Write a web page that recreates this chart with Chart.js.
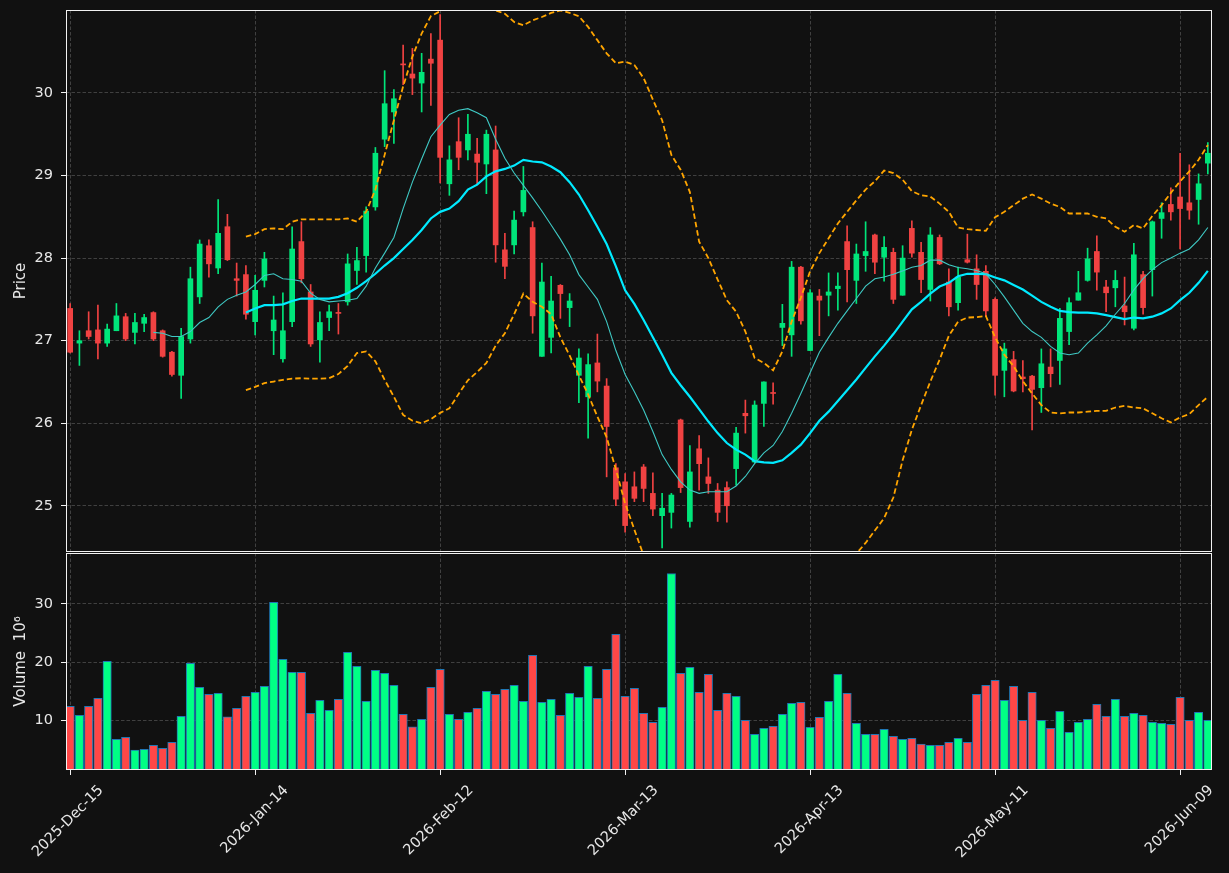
<!DOCTYPE html>
<html>
<head>
<meta charset="utf-8">
<script src="https://cdn.jsdelivr.net/npm/chart.js@4.4.1/dist/chart.umd.min.js"></script>
<style>
  html, body { margin: 0; padding: 0; background: #111111; }
  #wrap { position: relative; width: 1229px; height: 873px; }
  #priceBox { position: absolute; left: 0; top: 0; width: 1229px; height: 553px; }
  #volBox { position: absolute; left: 0; top: 553px; width: 1229px; height: 320px; }
</style>
</head>
<body>
<div id="wrap">
  <div id="priceBox"><canvas id="price" width="1229" height="553"></canvas></div>
  <div id="volBox"><canvas id="vol" width="1229" height="320"></canvas></div>
</div>
<script>
// tick labels (trading-day index -> date)
const tickPos = [0, 20, 40, 60, 80, 100, 120];
const tickLabels = ['2025-Dec-15', '2026-Jan-14', '2026-Feb-12', '2026-Mar-13', '2026-Apr-13', '2026-May-11', '2026-Jun-09'];
const priceTicks = [25, 26, 27, 28, 29, 30];
const volTicks = [10, 20, 30];

// OHLC, one value per trading day
const open = [27.39,26.97,27.12,27.13,26.97,27.12,27.29,27.10,27.21,27.34,
  27.12,26.86,26.58,27.02,27.53,28.15,27.88,28.38,27.75,27.80,
  27.23,27.73,27.12,26.78,27.23,28.20,27.59,27.01,27.28,27.34,
  27.47,27.85,28.03,28.62,29.44,29.77,30.35,30.23,30.12,30.41,
  30.64,28.90,29.41,29.31,29.26,29.14,29.31,28.10,28.16,28.56,
  28.37,26.81,27.04,27.67,27.40,26.58,26.32,26.73,26.45,25.46,
  25.29,25.23,25.47,25.15,24.88,24.92,26.04,24.81,25.69,25.35,
  25.19,25.22,25.45,26.12,25.53,26.24,26.37,27.16,27.07,27.89,
  26.88,27.54,27.55,27.63,28.20,27.73,28.03,28.28,28.01,28.07,
  27.55,28.36,28.07,27.62,28.25,27.71,27.46,27.98,27.87,27.84,
  27.50,26.64,26.77,26.56,26.57,26.43,26.68,26.76,27.11,27.49,
  27.73,28.08,27.65,27.64,27.42,27.15,27.80,27.86,28.48,28.65,
  28.74,28.67,28.71,29.15];
const high = [27.45,27.12,27.35,27.43,27.20,27.45,27.33,27.33,27.32,27.35,
  27.13,26.87,27.15,27.89,28.22,28.22,28.71,28.53,27.94,27.91,
  27.79,28.07,27.54,27.58,28.38,28.44,27.68,27.35,27.43,27.45,
  28.05,28.13,28.62,29.34,30.27,30.04,30.58,30.54,30.48,30.72,
  30.95,29.36,29.70,29.74,29.45,29.55,29.60,28.30,28.57,29.11,
  28.44,27.94,27.78,27.68,27.57,26.90,26.84,27.08,26.54,25.51,
  25.39,25.41,25.50,25.40,25.15,25.15,26.05,25.73,25.85,25.58,
  25.27,25.29,25.95,26.28,26.27,26.50,26.49,27.44,27.96,27.90,
  27.62,27.62,27.82,27.82,28.39,28.17,28.44,28.29,28.26,28.12,
  28.15,28.45,28.19,28.37,28.28,27.87,27.89,28.29,28.04,27.91,
  27.52,26.97,26.87,26.76,26.58,26.90,26.90,27.39,27.52,27.84,
  28.12,28.27,27.73,27.85,27.77,28.18,27.84,28.45,28.67,28.85,
  29.27,29.13,29.02,29.40];
const low = [26.85,26.70,27.02,26.78,26.93,27.12,27.00,26.96,27.11,27.00,
  26.80,26.57,26.30,26.97,27.45,27.77,27.81,27.97,27.54,27.26,
  27.07,27.65,26.83,26.74,27.17,27.70,26.93,26.74,27.12,27.08,
  27.43,27.68,27.83,28.58,29.35,29.39,30.10,29.98,29.77,29.85,
  28.91,28.76,29.07,29.19,28.90,28.78,27.95,27.75,28.05,28.51,
  27.09,26.81,26.85,27.27,27.17,26.25,25.82,26.38,25.35,25.00,
  24.68,25.05,25.05,24.88,24.49,24.73,25.16,24.74,25.19,25.15,
  24.81,24.80,25.25,25.88,25.52,25.96,26.23,26.94,26.81,27.20,
  26.88,27.06,27.30,27.37,27.47,27.45,27.84,27.81,27.72,27.45,
  27.55,28.01,27.58,27.48,27.92,27.30,27.37,27.94,27.50,27.29,
  26.34,26.32,26.38,26.38,25.92,26.13,26.44,26.47,26.95,27.49,
  27.72,27.61,27.35,27.41,27.19,27.13,27.32,27.54,28.24,28.46,
  28.11,28.47,28.41,29.02];
const close = [26.86,27.00,27.05,26.97,27.14,27.30,27.02,27.22,27.28,27.02,
  26.81,26.59,27.05,27.75,28.17,27.93,28.30,27.98,27.73,27.32,
  27.61,27.99,27.25,27.12,28.11,27.75,26.96,27.22,27.35,27.33,
  27.93,27.97,28.57,29.27,29.87,29.93,30.34,30.18,30.25,30.36,
  29.22,29.19,29.22,29.50,29.16,29.50,28.16,27.90,28.46,28.82,
  27.30,27.71,27.48,27.57,27.48,26.79,26.71,26.51,25.96,25.08,
  24.76,25.09,25.21,24.96,24.97,25.13,25.22,25.41,25.51,25.27,
  24.92,25.00,25.88,26.09,26.22,26.50,26.36,27.21,27.89,27.24,
  27.58,27.49,27.59,27.66,27.86,28.05,28.08,27.95,28.13,27.50,
  28.00,28.06,27.74,28.28,27.93,27.41,27.77,27.95,27.68,27.36,
  26.58,26.90,26.39,26.54,26.41,26.72,26.60,27.27,27.46,27.58,
  27.99,27.83,27.58,27.73,27.35,28.04,27.40,28.44,28.55,28.56,
  28.60,28.58,28.90,29.27];

// volume, millions
const volume = [12.4,10.86,12.4,13.77,20.1,6.74,7.09,4.86,5.03,5.71,
  5.2,6.23,10.69,19.77,15.66,14.46,14.63,10.57,12.06,14.11,
  14.8,15.83,30.23,20.46,18.23,18.23,11.2,13.43,11.71,13.6,
  21.66,19.26,13.26,18.57,18.06,16.0,11.03,8.86,10.17,15.66,
  18.74,11.03,10.17,11.37,12.06,14.97,14.46,15.31,16.0,13.26,
  21.14,13.09,13.6,10.86,14.63,13.94,19.26,13.77,18.74,24.74,
  14.11,15.49,11.2,9.66,12.23,35.2,18.06,19.09,14.8,17.89,
  11.71,14.63,14.11,10.0,7.6,8.63,8.97,11.03,12.91,13.09,
  8.8,10.51,13.26,17.89,14.63,9.49,7.6,7.6,8.46,7.26,
  6.74,6.91,5.89,5.71,5.71,6.23,6.91,6.23,14.46,16.0,
  16.86,13.43,15.83,10.0,14.8,10.0,8.63,11.54,7.94,9.66,
  10.17,12.74,10.69,13.6,10.69,11.2,10.86,9.66,9.49,9.31,
  13.94,10.0,11.37,10.0];

// moving averages and bands (start at day 9 / day 19)
const ma10 = [27.10,27.09,27.05,27.05,27.11,27.22,27.28,27.41,27.50,27.55,
  27.59,27.68,27.79,27.81,27.75,27.74,27.72,27.575,27.50,27.47,
  27.48,27.49,27.51,27.66,27.88,28.06,28.25,28.60,28.92,29.20,
  29.47,29.61,29.74,29.79,29.81,29.76,29.70,29.44,29.21,29.03,
  28.88,28.73,28.57,28.40,28.23,28.04,27.80,27.65,27.50,27.23,
  26.88,26.59,26.38,26.16,25.90,25.62,25.44,25.29,25.19,25.15,
  25.17,25.17,25.17,25.24,25.355,25.51,25.64,25.73,25.90,26.12,
  26.36,26.61,26.86,27.04,27.21,27.36,27.51,27.66,27.75,27.77,
  27.805,27.845,27.89,27.91,27.975,27.975,27.92,27.885,27.87,27.85,
  27.81,27.68,27.53,27.37,27.21,27.11,27.04,26.93,26.85,26.83,
  26.85,26.97,27.07,27.18,27.32,27.45,27.615,27.75,27.86,27.945,
  28.0,28.06,28.11,28.22,28.37];
const ma20 = [27.34,27.39,27.43,27.43,27.44,27.48,27.51,27.51,27.51,27.51,
  27.53,27.575,27.64,27.72,27.81,27.91,28.0,28.11,28.22,28.34,
  28.48,28.56,28.60,28.69,28.83,28.89,28.99,29.05,29.08,29.12,
  29.19,29.17,29.16,29.11,29.04,28.92,28.77,28.58,28.38,28.17,
  27.90,27.61,27.445,27.25,27.04,26.83,26.61,26.46,26.32,26.17,
  26.02,25.88,25.76,25.68,25.62,25.54,25.525,25.52,25.55,25.64,
  25.74,25.88,26.03,26.14,26.27,26.40,26.53,26.67,26.81,26.94,
  27.08,27.23,27.38,27.47,27.57,27.655,27.70,27.78,27.81,27.81,
  27.805,27.765,27.73,27.675,27.62,27.545,27.47,27.41,27.36,27.345,
  27.34,27.34,27.33,27.31,27.285,27.26,27.28,27.27,27.29,27.33,
  27.39,27.49,27.58,27.70,27.845];
const bbUpper = [28.26,28.29,28.35,28.36,28.35,28.44,28.47,28.47,28.47,28.47,
  28.47,28.48,28.44,28.56,28.83,29.25,29.67,30.08,30.44,30.72,
  30.93,30.99,31.08,31.12,31.12,31.08,31.03,31.0,30.96,30.86,
  30.82,30.88,30.92,30.97,31.0,30.97,30.93,30.80,30.64,30.48,
  30.36,30.38,30.34,30.18,29.92,29.67,29.25,29.07,28.80,28.20,
  28.00,27.74,27.49,27.35,27.11,26.79,26.73,26.64,26.87,27.23,
  27.52,27.84,28.06,28.24,28.42,28.56,28.70,28.83,28.93,29.06,
  29.03,28.95,28.81,28.76,28.745,28.66,28.56,28.37,28.35,28.34,
  28.33,28.495,28.56,28.64,28.72,28.77,28.72,28.66,28.62,28.54,
  28.54,28.54,28.50,28.48,28.38,28.32,28.40,28.36,28.51,28.64,
  28.79,28.93,29.05,29.19,29.37];
const bbLower = [26.40,26.44,26.485,26.505,26.525,26.54,26.545,26.54,26.54,26.545,
  26.595,26.695,26.85,26.87,26.75,26.525,26.32,26.10,26.03,26.0,
  26.05,26.125,26.18,26.355,26.52,26.62,26.73,26.94,27.09,27.32,
  27.57,27.47,27.41,27.32,27.04,26.82,26.58,26.35,26.08,25.83,
  25.44,25.03,24.71,24.40,24.10,23.85,23.70,23.60,23.55,23.60,
  23.70,23.85,23.95,24.00,24.10,24.20,24.30,24.35,24.25,24.10,
  24.00,23.95,23.95,24.00,24.10,24.25,24.42,24.55,24.70,24.85,
  25.10,25.55,25.92,26.22,26.505,26.77,27.06,27.23,27.28,27.285,
  27.30,27.04,26.83,26.69,26.51,26.36,26.22,26.13,26.12,26.13,
  26.13,26.14,26.15,26.15,26.19,26.21,26.19,26.18,26.12,26.06,
  26.01,26.07,26.11,26.22,26.32];

const UP = '#00e57a', DOWN = '#f04242';
const VOL_UP = '#00ff85', VOL_DOWN = '#ff4747';
const GRID = '#404040', TEXT = '#e8e8e8', EDGE = '#f2f2f2';
const FONT = 'DejaVu Sans';
const DASH = [3.5, 2];

const days = close.map((_, i) => i);
const isUp = days.map(i => close[i] >= open[i]);
const pts = (arr, start) => arr.map((v, k) => ({ x: start + k, y: v }));

// white box round each panel
const frame = {
  id: 'frame',
  afterDraw(chart) {
    const { ctx, chartArea: a } = chart;
    ctx.save();
    ctx.strokeStyle = EDGE;
    ctx.lineWidth = 1;
    ctx.strokeRect(a.left + 0.5, a.top + 0.5, a.right - a.left - 1, a.bottom - a.top - 1);
    ctx.restore();
  }
};

const xCommon = {
  type: 'linear',
  min: -0.45,
  max: 123.45,
  offset: false,
  afterBuildTicks: s => { s.ticks = tickPos.map(v => ({ value: v })); },
  border: { display: false, dash: DASH }
};

function fixY(width) {
  return s => { s.width = width; s.paddingTop = 0; s.paddingBottom = 0; };
}

new Chart(document.getElementById('price'), {
  type: 'bar',
  data: {
    datasets: [
      { type: 'line', data: pts(ma10, 9), borderColor: '#3fc9c4', borderWidth: 1.1, pointRadius: 0, order: 0 },
      { type: 'line', data: pts(ma20, 19), borderColor: '#00eaff', borderWidth: 2.2, pointRadius: 0, order: 0 },
      { type: 'line', data: pts(bbUpper, 19), borderColor: '#ffa500', borderWidth: 1.8, borderDash: [5.5, 3], pointRadius: 0, order: 0 },
      { type: 'line', data: pts(bbLower, 19), borderColor: '#ffa500', borderWidth: 1.8, borderDash: [5.5, 3], pointRadius: 0, order: 0 },
      {
        data: days.map(i => ({ x: i, y: [low[i], high[i]] })),
        backgroundColor: days.map(i => isUp[i] ? UP : DOWN),
        barThickness: 1, grouped: false, order: 2
      },
      {
        data: days.map(i => ({ x: i, y: [open[i], close[i]] })),
        backgroundColor: days.map(i => isUp[i] ? UP : DOWN),
        barThickness: 5, minBarLength: 1, grouped: false, order: 1
      }
    ]
  },
  options: {
    responsive: false,
    animation: false,
    devicePixelRatio: 1,
    layout: { padding: { left: 0, top: 10, right: 17, bottom: 1 } },
    plugins: { legend: { display: false }, tooltip: { enabled: false } },
    scales: {
      x: Object.assign({}, xCommon, {
        ticks: { display: false },
        grid: { color: GRID, offset: false, drawTicks: false },
        afterFit: s => { s.height = 0; s.paddingLeft = 0; s.paddingRight = 0; }
      }),
      y: {
        min: 24.44,
        max: 31.005,
        afterBuildTicks: s => { s.ticks = priceTicks.map(v => ({ value: v })); },
        afterFit: fixY(66),
        border: { display: false, dash: DASH },
        grid: { color: GRID, tickColor: EDGE, tickLength: 5, tickBorderDash: [] },
        ticks: { color: TEXT, font: { family: FONT, size: 14.5 }, padding: 8 },
        title: { display: true, text: 'Price', color: TEXT, font: { family: FONT, size: 15 }, padding: { top: 12, bottom: 0 } }
      }
    }
  },
  plugins: [frame]
});

new Chart(document.getElementById('vol'), {
  type: 'bar',
  data: {
    datasets: [{
      data: days.map(i => ({ x: i, y: volume[i] })),
      backgroundColor: days.map(i => isUp[i] ? VOL_UP : VOL_DOWN),
      borderColor: '#1f77b4',
      borderWidth: 1,
      borderSkipped: false,
      barThickness: 8.4
    }]
  },
  options: {
    responsive: false,
    animation: false,
    devicePixelRatio: 1,
    layout: { padding: { left: 0, top: 0, right: 17, bottom: 0 } },
    plugins: { legend: { display: false }, tooltip: { enabled: false } },
    scales: {
      x: Object.assign({}, xCommon, {
        grid: { color: GRID, offset: false, tickColor: EDGE, tickLength: 5, tickBorderDash: [] },
        ticks: {
          color: TEXT, font: { family: FONT, size: 14.5 }, padding: 7, labelOffset: 31,
          minRotation: 45, maxRotation: 45, autoSkip: false,
          callback: v => tickLabels[tickPos.indexOf(v)]
        },
        afterFit: s => { s.height = 103; s.paddingLeft = 0; s.paddingRight = 0; }
      }),
      y: {
        min: 1.46,
        max: 38.72,
        afterBuildTicks: s => { s.ticks = volTicks.map(v => ({ value: v })); },
        afterFit: fixY(66),
        border: { display: false, dash: DASH },
        grid: { color: GRID, tickColor: EDGE, tickLength: 5, tickBorderDash: [] },
        ticks: { color: TEXT, font: { family: FONT, size: 14.5 }, padding: 8 },
        title: { display: true, text: 'Volume  10⁶', color: TEXT, font: { family: FONT, size: 15 }, padding: { top: 12, bottom: 0 } }
      }
    }
  },
  plugins: [frame]
});
</script>
</body>
</html>
